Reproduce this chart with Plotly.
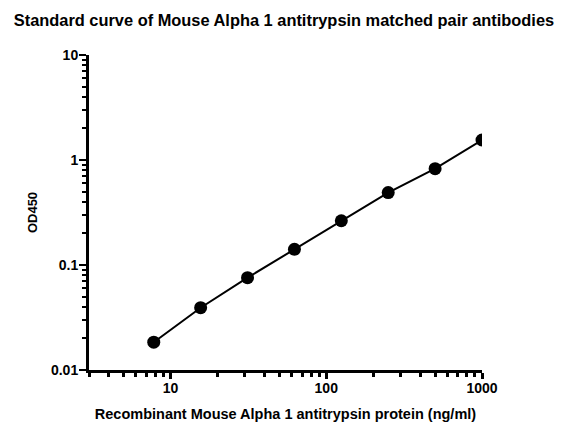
import math
import plotly.graph_objects as go

# concentrations (ng/ml) and OD450 readings
concentration = [7.8125, 15.625, 31.25, 62.5, 125, 250, 500, 1000]
od450 = [0.0184, 0.0392, 0.0757, 0.141, 0.264, 0.489, 0.826, 1.55]

x_range = [3, 1000]
y_range = [0.01, 10]

font_name = "Liberation Sans, Arial, sans-serif"

fig = go.Figure()
fig.add_trace(go.Scatter(x=concentration, y=od450, mode="lines+markers",
                         line=dict(color="black", width=2),
                         marker=dict(color="black", size=13),
                         showlegend=False))

tick_font = dict(family=font_name, size=14, color="black", weight="bold")

fig.update_xaxes(type="log", range=[math.log10(v) for v in x_range],
                 showgrid=False, zeroline=False, automargin=False,
                 showline=True, linecolor="black", linewidth=3,
                 ticks="outside", ticklen=6, tickwidth=2.5, tickcolor="black", dtick=1,
                 minor=dict(ticks="outside", ticklen=4, tickwidth=2.5,
                            tickcolor="black", dtick="D1", showgrid=False),
                 tickfont=tick_font, ticklabelstandoff=-3,
                 title=dict(text="Recombinant Mouse Alpha 1 antitrypsin protein (ng/ml)",
                            font=dict(family=font_name, size=14.5, color="black", weight="bold"),
                            standoff=15))
fig.update_yaxes(type="log", range=[math.log10(v) for v in y_range],
                 showgrid=False, zeroline=False, automargin=False,
                 showline=True, linecolor="black", linewidth=3,
                 ticks="outside", ticklen=7, tickwidth=2, tickcolor="black", dtick=1,
                 minor=dict(ticks="outside", ticklen=4, tickwidth=2,
                            tickcolor="black", dtick="D1", showgrid=False),
                 tickfont=tick_font, ticklabelstandoff=-2,
                 title=dict(text="OD450",
                            font=dict(family=font_name, size=13, color="black", weight="bold"),
                            standoff=11))

fig.update_layout(
    width=569, height=437,
    title=dict(text="Standard curve of Mouse Alpha 1 antitrypsin matched pair antibodies",
               x=0.485, xanchor="center", y=0.9725, yanchor="middle",
               font=dict(family=font_name, size=16.4, color="black", weight="bold")),
    margin=dict(l=81, r=95, t=47, b=75),
    plot_bgcolor="white", paper_bgcolor="white",
    font=dict(family=font_name, color="black"),
)

fig.write_html("out.html")
